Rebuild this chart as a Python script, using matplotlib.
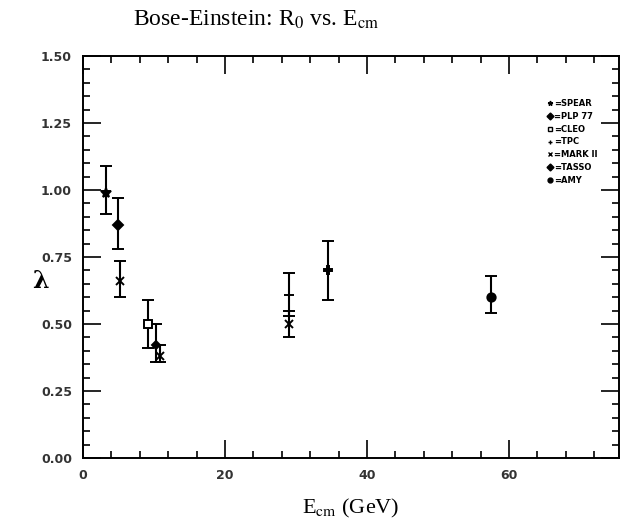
import numpy as np
import matplotlib.pyplot as plt
from matplotlib.ticker import MultipleLocator, FormatStrFormatter
from matplotlib.lines import Line2D

plt.rcParams["mathtext.fontset"] = "stix"

# data
labels = ["SPEAR", "PLP 77", "CLEO", "TPC", "MARK II", "TASSO", "AMY"]
legend_markers = ["*", "D", "s", "+", "x", "D", "o"]
legend_filled = [True, True, False, True, True, True, True]

e_cm   = [3.2, 4.9, 5.2, 9.1, 10.3, 10.8, 29.0, 29.0, 34.5, 57.5]
lam    = [0.99, 0.87, 0.66, 0.50, 0.42, 0.38, 0.61, 0.50, 0.70, 0.60]
err_lo = [0.08, 0.09, 0.06, 0.09, 0.06, 0.02, 0.08, 0.05, 0.11, 0.06]
err_hi = [0.10, 0.10, 0.075, 0.09, 0.08, 0.04, 0.08, 0.05, 0.11, 0.08]
pt_mark = ["*", "D", "x", "s", "D", "x", "+", "x", "P", "o"]
pt_fill = [True, True, True, False, True, True, True, True, True, True]
pt_size = [7, 5, 6, 6, 4, 6, 7, 6, 6, 6]

fig = plt.figure(figsize=(6.21, 5.27), dpi=100)
ax = fig.add_axes([83 / 621, 69 / 527, 536 / 621, 402 / 527])

for x, y, lo, hi, m, f, s in zip(e_cm, lam, err_lo, err_hi, pt_mark, pt_fill, pt_size):
    ax.errorbar([x], [y], yerr=[[lo], [hi]], fmt=m, color="black",
                mfc="black" if f else "white", mec="black", ms=s, mew=1.4,
                elinewidth=1.5, capsize=4, capthick=1.5)

handles = [Line2D([], [], ls="none", marker=m, color="black",
                  mfc="black" if f else "white", mec="black", ms=3.5, mew=1)
           for m, f in zip(legend_markers, legend_filled)]
leg = ax.legend(handles, ["=" + s for s in labels], loc="upper right",
                bbox_to_anchor=(0.97, 0.905), frameon=False, fontsize=6,
                handlelength=0.6, handletextpad=0.2, labelspacing=0.45,
                borderpad=0.1)
for t in leg.get_texts():
    t.set_fontweight("bold")

ax.set_xlim(0, 75.5)
ax.set_ylim(0, 1.5)
ax.xaxis.set_major_locator(MultipleLocator(20))
ax.xaxis.set_minor_locator(MultipleLocator(4))
ax.yaxis.set_major_locator(MultipleLocator(0.25))
ax.yaxis.set_minor_locator(MultipleLocator(0.05))
ax.yaxis.set_major_formatter(FormatStrFormatter("%.2f"))
ax.tick_params(which="both", direction="in", top=True, right=True,
               width=1.2, labelsize=9, colors="black")
ax.tick_params(which="major", length=13, pad=8)
ax.tick_params(which="minor", length=5)
for lab in ax.get_xticklabels() + ax.get_yticklabels():
    lab.set_fontweight("bold")
    lab.set_color("#333333")
for sp in ax.spines.values():
    sp.set_linewidth(1.4)

ax.set_xlabel(r"E$_{\rm cm}$ (GeV)", fontsize=16, family="Liberation Serif",
              labelpad=11)
ax.set_ylabel("λ", fontsize=17, rotation=0, fontweight="bold",
              family="DejaVu Serif")
ax.yaxis.set_label_coords(-0.08, 0.41)

fig.text(0.413, 0.962, r"Bose-Einstein: R$_0$ vs. E$_{\rm cm}$", ha="center",
         va="center", fontsize=17, family="Liberation Serif")

fig.savefig("out.png", dpi=100)
